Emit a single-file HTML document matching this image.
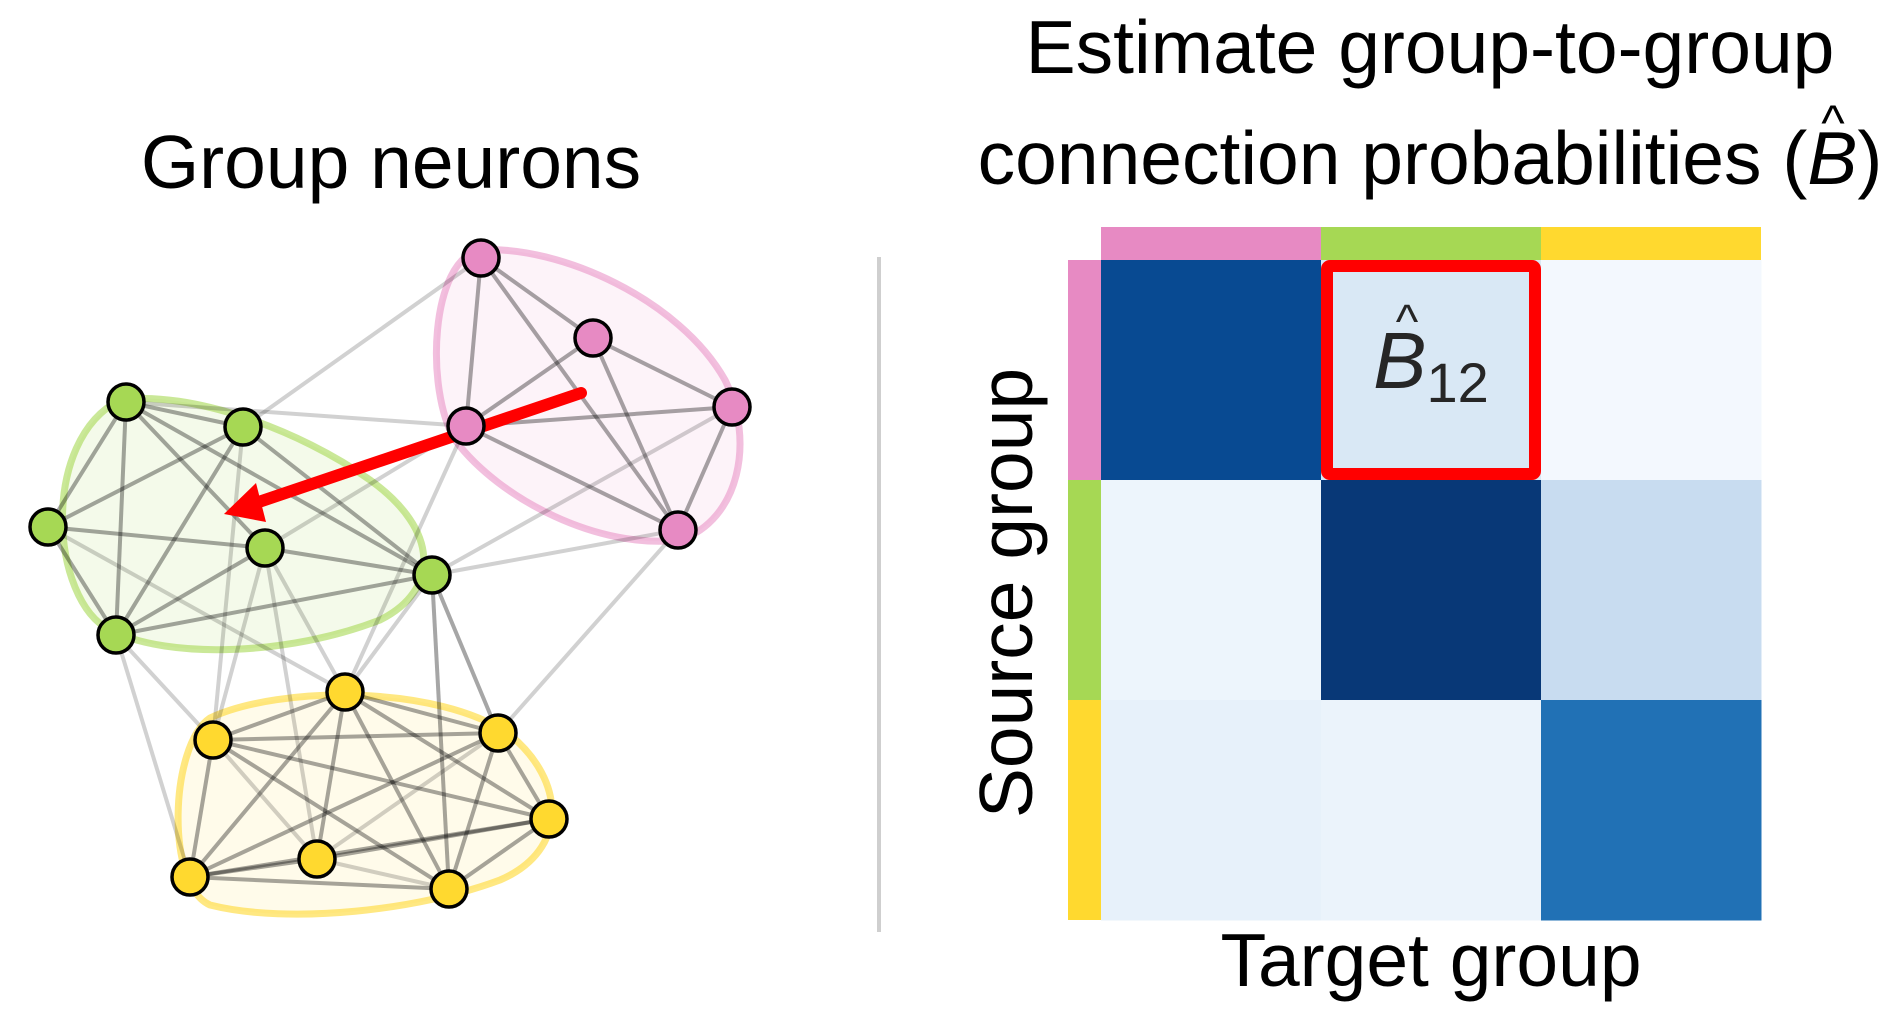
<!DOCTYPE html>
<html><head><meta charset="utf-8"><style>
body{margin:0;background:#fff;}
svg{display:block;font-family:"Liberation Sans",sans-serif;}
</style></head><body>
<svg width="1897" height="1021" viewBox="0 0 1897 1021" xmlns="http://www.w3.org/2000/svg">
<text x="391" y="188" font-size="75" text-anchor="middle">Group neurons</text>
<text x="1430" y="73" font-size="75" text-anchor="middle">Estimate group-to-group</text>
<text x="1430" y="184" font-size="75" text-anchor="middle">connection probabilities (<tspan font-style="italic">B</tspan>)</text>
<text x="1833" y="140" font-size="50" text-anchor="middle">^</text>
<line x1="879" y1="257" x2="879" y2="932" stroke="#cfcfcf" stroke-width="4"/>
<g id="hulls">
<path d="M480,250 C560,245 680,300 725,380 C755,440 740,520 680,540 C600,550 500,500 455,440 C425,390 430,260 480,250 Z" fill="#e78ac3" fill-opacity="0.1" stroke="#e78ac3" stroke-opacity="0.55" stroke-width="7"/>
<path d="M120,400 C190,390 300,430 370,480 C440,530 440,590 380,620 C290,655 170,660 110,630 C50,600 40,440 120,400 Z" fill="#a6d854" fill-opacity="0.12" stroke="#a6d854" stroke-opacity="0.6" stroke-width="7"/>
<path d="M210,718 C280,685 440,685 510,735 C565,780 570,850 500,880 C420,910 290,925 210,905 C165,885 170,745 210,718 Z" fill="#ffd92f" fill-opacity="0.1" stroke="#ffd92f" stroke-opacity="0.6" stroke-width="7"/>
</g>
<g id="edges"></g>
<g id="arrow">
<line x1="581" y1="393" x2="250" y2="505" stroke="#ff0000" stroke-width="12" stroke-linecap="round"/>
<polygon points="224,514 256,483 266,522" fill="#ff0000"/>
</g>
<g id="nodes"></g>
<g id="heat"></g>
<text x="1431" y="986" font-size="75" text-anchor="middle">Target group</text>
<text transform="translate(1032,593) rotate(-90)" font-size="75" text-anchor="middle">Source group</text>
<script>
const nodeNames=["P0","P1","P2","P3","P4","G0","G1","G2","G3","G4","G5","Y0","Y1","Y2","Y3","Y4","Y5","Y6"];
const nodeX=[481,593,732,466,678,126,243,48,265,432,116,345,213,498,549,317,190,449];
const nodeY=[258,338,407,426,530,402,427,527,548,575,635,692,740,733,819,859,877,889];
const nodeGroup=[0,0,0,0,0,1,1,1,1,1,1,2,2,2,2,2,2,2];
const groupColors=["#e78ac3","#a6d854","#ffd92f"];
const strongEdges=[[0,1],[0,3],[0,4],[1,2],[1,3],[1,4],[2,3],[2,4],[3,4],
[5,6],[5,7],[5,8],[5,9],[5,10],[6,7],[6,10],[6,9],[7,8],[7,10],[8,9],[8,10],[9,10],[9,13],[9,17],
[11,12],[11,13],[11,14],[11,16],[11,17],[11,15],[12,13],[12,14],[12,16],[12,17],[13,14],[13,16],[13,17],[14,15],[14,16],[14,17],[15,16],[16,17]];
const weakEdges=[[0,6],[5,3],[3,8],[3,11],[2,9],[4,9],[4,13],[6,12],[7,11],[8,11],[8,15],[8,12],[10,12],[10,16],[9,11],[12,15],[13,15],[15,17]];
const heatRows=["pink","green","yellow"];
const heatValues=[[0.9,0.15,0.02],[0.05,0.97,0.24],[0.08,0.06,0.75]];
const NS="http://www.w3.org/2000/svg";
function mk(t,a){const e=document.createElementNS(NS,t);for(const k in a)e.setAttribute(k,a[k]);return e;}
const eg=document.getElementById('edges');
function addEdge(p,op,w){const l=mk('line',{x1:nodeX[p[0]],y1:nodeY[p[0]],x2:nodeX[p[1]],y2:nodeY[p[1]],stroke:'#000','stroke-opacity':op,'stroke-width':w});


eg.appendChild(l);}
weakEdges.forEach(p=>addEdge(p,0.18,4));
strongEdges.forEach(p=>addEdge(p,0.35,4));
const ng=document.getElementById('nodes');
nodeX.forEach((x,i)=>{const c=mk('circle',{cx:x,cy:nodeY[i],r:18,fill:groupColors[nodeGroup[i]],stroke:'#000','stroke-width':3.5});


ng.appendChild(c);});
const blues=[[247,251,255],[222,235,247],[198,219,239],[158,202,225],[107,174,214],[66,146,198],[33,113,181],[8,81,156],[8,48,107]];
function blue(v){v=Math.max(0,Math.min(1,v));const f=v*(blues.length-1);const i=Math.min(blues.length-2,Math.floor(f));const t=f-i;
const c=blues[i].map((a,k)=>Math.round(a+(blues[i+1][k]-a)*t));return 'rgb('+c.join(',')+')';}
const hx0=1101,hy0=260,cell=220;
function xPos(j){return hx0+j*cell;}
function yPos(i){return hy0+i*cell;}
const hg=document.getElementById('heat');
heatValues.forEach((row,i)=>row.forEach((v,j)=>{const r=mk('rect',{x:xPos(j),y:yPos(i),width:cell+0.5,height:cell+0.5,fill:blue(v)});


hg.appendChild(r);}));
groupColors.forEach((c,k)=>{const t=mk('rect',{x:xPos(k),y:hy0-33,width:cell,height:33,fill:c});


hg.appendChild(t);
const l=mk('rect',{x:hx0-33,y:yPos(k),width:33,height:cell,fill:c});


hg.appendChild(l);});
const box=mk('rect',{x:xPos(1)+6,y:yPos(0)+6,width:cell-12,height:cell-12,fill:'none',stroke:'#ff0000','stroke-width':12,rx:3});


hg.appendChild(box);
const tx=mk('text',{x:xPos(1)+cell/2,y:yPos(0)+cell/2+18,'font-size':80,'text-anchor':'middle',fill:'#262626'});
const t1=mk('tspan',{'font-style':'italic'});t1.textContent='B';tx.appendChild(t1);
const t2=mk('tspan',{'font-size':56,dy:14});t2.textContent='12';tx.appendChild(t2);


hg.appendChild(tx);
const hat=mk('text',{x:xPos(1)+cell/2-24,y:yPos(0)+cell/2-32,'font-size':48,'text-anchor':'middle',fill:'#262626'});
hat.textContent='^';


hg.appendChild(hat);
</script>
</svg>
</body></html>
